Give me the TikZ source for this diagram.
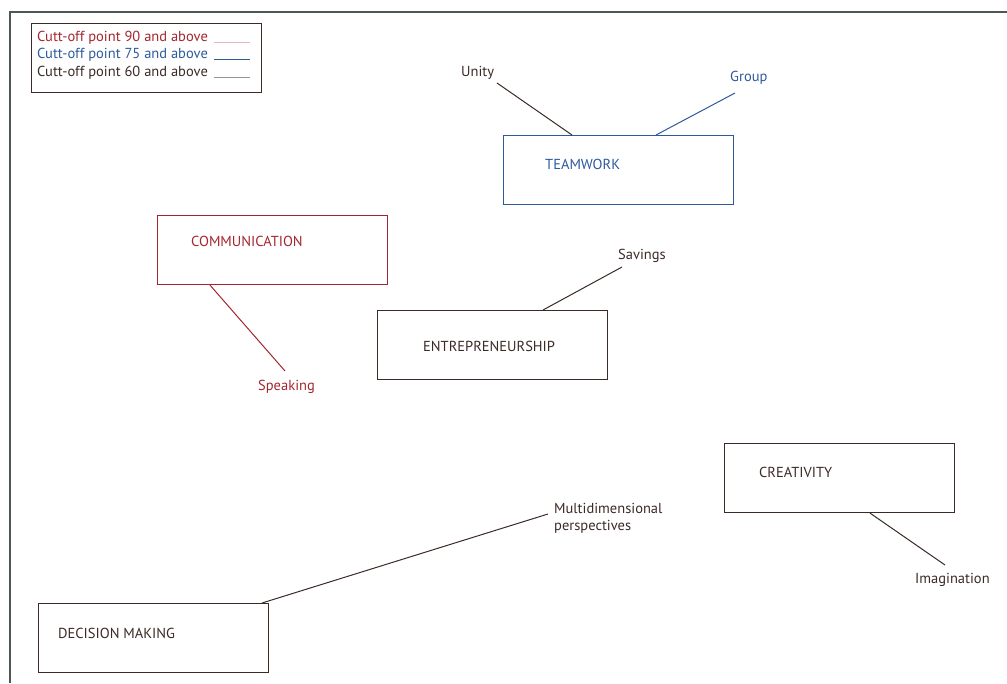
\documentclass[tikz,border=0pt]{standalone}
\usepackage{fontspec}
\setmainfont{PT Sans}
\usetikzlibrary{calc, positioning}
\definecolor{xred}{HTML}{A3262E}
\definecolor{xblue}{HTML}{2D5A9B}
\definecolor{xbrown}{HTML}{3B2A26}
\definecolor{xpink}{HTML}{E3B5BE}
\definecolor{xgrey}{HTML}{9A9090}
\definecolor{xframe}{HTML}{4B5853}
\tikzset{
	skill/.style = {draw=#1, line width=1.1pt, minimum width=230pt, minimum height=69pt, inner sep=0pt, anchor=north west},
	word/.style = {text=#1, font=\fontsize{14.5}{17}\selectfont, inner sep=0pt, anchor=base west},
	link/.style = {draw=#1, line width=1pt},
}
\begin{document}
\begin{tikzpicture}[x=1pt, y=-1pt]
	\useasboundingbox (0,0) rectangle (1007,683);
	\draw[xframe, line width=1.2pt] (10,683) -- (10,12) -- (1007,12);
	% legend
	\node[draw=xbrown, line width=1pt, minimum width=230pt, minimum height=69pt, inner sep=0pt, anchor=north west] (legend) at (31,23) {};
	\node[word=xred]   (leg90) at (37,41) {Cutt-off point 90 and above};
	\node[word=xblue]  (leg75) at (37,58) {Cutt-off point 75 and above};
	\node[word=xbrown] (leg60) at (37,76) {Cutt-off point 60 and above};
	\draw[xpink, line width=0.8pt] (214,42) -- (250,42);
	\draw[xblue, line width=0.8pt] (214,59) -- (250,59);
	\draw[xgrey, line width=0.8pt] (214,77) -- (250,77);
	% skill boxes
	\node[skill=xblue]  (team)  at (503,135) {};
	\node[skill=xred]   (comm)  at (157,215) {};
	\node[skill=xbrown] (entre) at (377,310) {};
	\node[skill=xbrown] (creat) at (724,443) {};
	\node[skill=xbrown] (decis) at (38,603) {};
	\node[word=xblue]  (team-t)  at (545,169) {TEAMWORK};
	\node[word=xred]   (comm-t)  at (191,246) {COMMUNICATION};
	\node[word=xbrown] (entre-t) at (423,351) {ENTREPRENEURSHIP};
	\node[word=xbrown] (creat-t) at (759,477) {CREATIVITY};
	\node[word=xbrown] (decis-t) at (58,638)  {DECISION MAKING};
	% sub-skills
	\node[word=xbrown] (unity)    at (461,76)  {Unity};
	\node[word=xblue]  (group)    at (730,81)  {Group};
	\node[word=xbrown] (savings)  at (618,259) {Savings};
	\node[word=xred]   (speaking) at (258,390) {Speaking};
	\node[word=xbrown] (imag)     at (915,583) {Imagination};
	\node[word=xbrown, anchor=north west, align=left] (multi) at (554,503) {Multidimensional\\perspectives};
	\draw[link=xbrown] ([shift={(36,7)}]unity.base west) -- ($(team.north west)+(69,0)$);
	\draw[link=xblue]  ([shift={(5,12)}]group.base west) -- ($(team.north west)+(153,0)$);
	\draw[link=xbrown] ([shift={(4,8)}]savings.base west) -- ($(entre.north west)+(166,0)$);
	\draw[link=xred]   ($(comm.south west)+(53,0)$) -- ([shift={(27,-19)}]speaking.base west);
	\draw[link=xbrown] ($(creat.south west)+(146,0)$) -- ([shift={(30,-18)}]imag.base west);
	\draw[link=xbrown] ($(decis.north west)+(224,0)$) -- ([shift={(-6,11)}]multi.north west);
\end{tikzpicture}
\end{document}
